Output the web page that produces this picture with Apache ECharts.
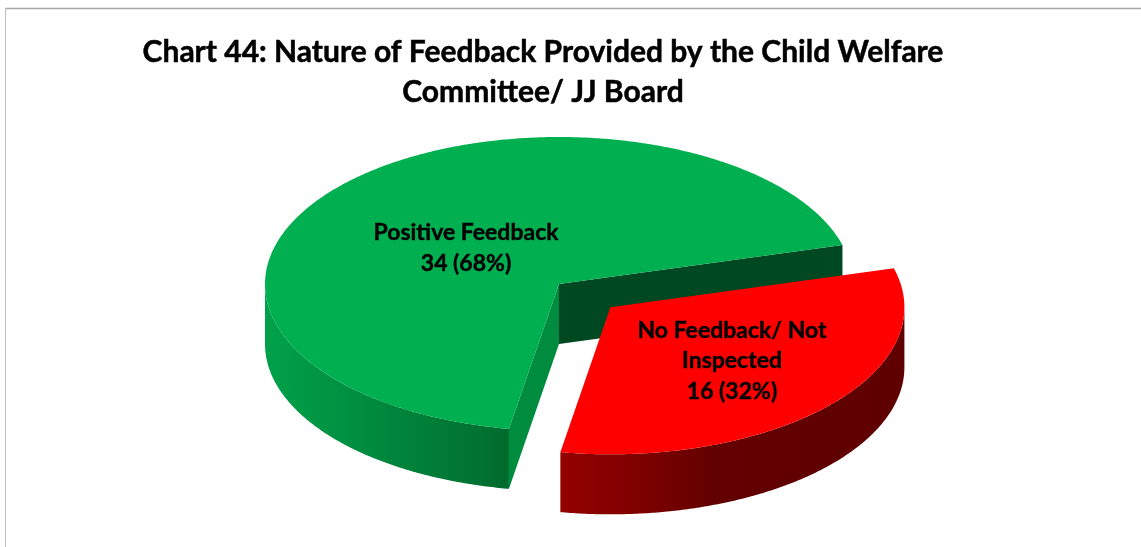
<!DOCTYPE html>
<html>
<head>
<meta charset="utf-8">
<style>html,body{margin:0;padding:0;background:#fff}#chart{width:1141px;height:547px}</style>
<script src="https://cdn.jsdelivr.net/npm/echarts@6/dist/echarts.min.js"></script>
</head>
<body>
<div id="chart"></div>
<script>
// Data
const chartTitle = 'Chart 44: Nature of Feedback Provided by the Child Welfare\nCommittee/ JJ Board';
const categories = ['Positive Feedback', 'No Feedback/ Not\nInspected'];
const counts = [34, 16];
const percents = [68, 32];

// Styles and layout
const explode = [0, 0.236];
const topColors = ['#00B050', '#FF0000'];
const startFaceColors = ['#008C3E', '#8F0000'];
const endFaceColors = ['#004822', '#5F0000'];
const wallStops = [
  [[0, '#00A14A'], [0.45, '#008A3E'], [1, '#006B2E']],
  [[0, '#930000'], [0.2, '#820000'], [0.45, '#630000'], [1, '#5F0000']]
];
const labelAnchors = [[466, 248], [732, 361]];
const PIE = {cx: 559, cy: 284, rx: 294, ry: 147, depth: 60, startAngle: 189.8};
const FONT = 'Lato, "Open Sans", sans-serif';

const total = counts.reduce((a, b) => a + b, 0);
const rad = d => d * Math.PI / 180;
function pt(c, deg, dy) {
  return [c[0] + PIE.rx * Math.sin(rad(deg)), c[1] - PIE.ry * Math.cos(rad(deg)) + (dy || 0)];
}
function arc(c, a0, a1, dy) {
  const out = [], n = Math.max(2, Math.ceil(Math.abs(a1 - a0) * 2));
  for (let i = 0; i <= n; i++) out.push(pt(c, a0 + (a1 - a0) * i / n, dy));
  return out;
}
function renderSlice(params, api) {
  const i = params.dataIndex;
  let before = 0;
  for (let k = 0; k < i; k++) before += counts[k];
  const a0 = PIE.startAngle + before / total * 360;
  const a1 = a0 + api.value(0) / total * 360;
  const mid = (a0 + a1) / 2;
  const c = [
    PIE.cx + explode[i] * PIE.rx * Math.sin(rad(mid)),
    PIE.cy - explode[i] * PIE.ry * Math.cos(rad(mid))
  ];
  const children = [];
  const face = (deg, color) => {
    const e = pt(c, deg), b = pt(c, deg, PIE.depth);
    children.push({type: 'polygon', shape: {points: [c, e, b, [c[0], c[1] + PIE.depth]]},
      style: {fill: color}});
  };
  // Cut faces that can be seen from above the front of the pie
  if (Math.sin(rad(a1)) > 0) face(a1, endFaceColors[i]);
  // Outer wall: the part of the slice that lies on the front half of the ellipse
  for (const shift of [0, 360]) {
    const w0 = Math.max(a0, 90 + shift), w1 = Math.min(a1, 270 + shift);
    if (w1 > w0) {
      const upper = arc(c, w0, w1, 0), lower = arc(c, w1, w0, PIE.depth);
      const xs = upper.map(p => p[0]);
      children.push({type: 'polygon', shape: {points: upper.concat(lower)}, style: {
        fill: {type: 'linear', x: Math.min(...xs), y: 0, x2: Math.max(...xs), y2: 0, global: true,
          colorStops: wallStops[i].map(s => ({offset: s[0], color: s[1]}))}
      }});
    }
  }
  if (Math.sin(rad(a0)) < 0) face(a0, startFaceColors[i]);
  // Top of the slice
  children.push({type: 'polygon', shape: {points: [c].concat(arc(c, a0, a1, 0))},
    style: {fill: topColors[i]}});
  children.push({type: 'text', style: {
    x: labelAnchors[i][0], y: labelAnchors[i][1],
    text: categories[i] + '\n' + counts[i] + ' (' + percents[i] + '%)',
    fill: '#000', font: 'bold 23px ' + FONT, lineHeight: 30.5,
    stroke: '#000', lineWidth: 0.4,
    align: 'center', verticalAlign: 'middle'
  }});
  return {type: 'group', children};
}

const chart = echarts.init(document.getElementById('chart'), null, {renderer: 'canvas'});
chart.setOption({
  animation: false,
  backgroundColor: '#fff',
  title: {
    text: chartTitle, left: 538, top: 27, textAlign: 'center',
    textStyle: {fontFamily: FONT, fontWeight: 'bold', fontSize: 30, lineHeight: 40, color: '#000',
      textBorderColor: '#000', textBorderWidth: 0.5}
  },
  graphic: [
    {type: 'line', shape: {x1: 5, y1: 8.5, x2: 1141, y2: 8.5}, style: {stroke: '#A6A6A6', lineWidth: 1.5}},
    {type: 'line', shape: {x1: 5.5, y1: 8, x2: 5.5, y2: 547}, style: {stroke: '#BFBFBF', lineWidth: 1}}
  ],
  series: [{
    type: 'custom',
    coordinateSystem: 'none',
    renderItem: renderSlice,
    data: counts.map((v, i) => ({name: categories[i], value: [v]}))
  }]
});
</script>
</body>
</html>
